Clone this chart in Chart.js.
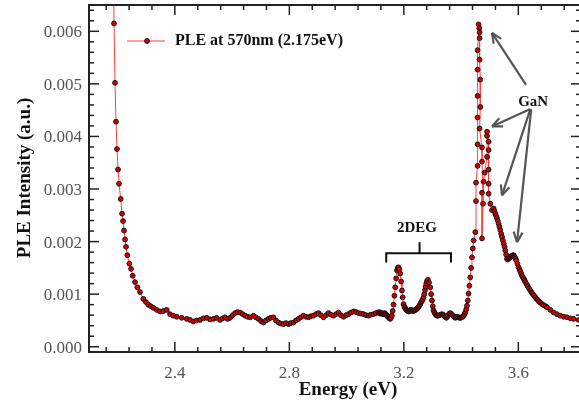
<!DOCTYPE html>
<html>
<head>
<meta charset="utf-8">
<script src="https://cdn.jsdelivr.net/npm/chart.js@4/dist/chart.umd.min.js"></script>
<style>
  html, body { margin: 0; padding: 0; background: #fff; }
  #ple { display: block; }
</style>
</head>
<body>
<canvas id="ple" width="579" height="403"></canvas>
<script>
const ctx = document.getElementById("ple").getContext("2d");

// PLE spectrum, detection at 570 nm
const seriesLabel = "PLE at 570nm (2.175eV)";

// absorption edge tail + flat background
const edgeEnergy = [
  2.184, 2.1874, 2.1909, 2.1944, 2.1979, 2.2014, 2.2049, 2.2108, 2.2154, 2.2189,
  2.2224, 2.2259, 2.2294, 2.2339, 2.2409, 2.2469, 2.2528, 2.2608, 2.2689, 2.2783,
  2.2899, 2.299, 2.3073, 2.316, 2.3248, 2.337, 2.3483, 2.36, 2.3717, 2.3832,
  2.395, 2.4066, 2.424, 2.4416, 2.453, 2.4647, 2.476, 2.4881, 2.5, 2.5115,
  2.523, 2.5346, 2.546, 2.558, 2.567, 2.5755, 2.584, 2.593, 2.602, 2.6105,
  2.619, 2.628, 2.637, 2.6455, 2.654, 2.6629, 2.6745, 2.683, 2.692, 2.701,
  2.7094, 2.718, 2.7269, 2.735, 2.7444, 2.753, 2.7619, 2.77, 2.7794, 2.788,
  2.7969, 2.805, 2.8143, 2.823, 2.8318, 2.84, 2.8493, 2.858, 2.8668, 2.875,
  2.8843, 2.893, 2.9017, 2.91, 2.9192, 2.928, 2.9367, 2.945, 2.9542, 2.963,
  2.9717, 2.98, 2.9892, 2.998, 3.0066, 3.015, 3.0241, 3.033, 3.0416, 3.05,
  3.0591, 3.068, 3.0766, 3.085, 3.0941, 3.103
];
const edgeIntensity = [
  0.0080, 0.00615, 0.00502, 0.00428, 0.00376, 0.00337, 0.00310, 0.00281, 0.00253, 0.00239,
  0.00221, 0.00204, 0.00190, 0.00174, 0.00158, 0.00148, 0.00135, 0.00123, 0.00113, 0.00104,
  0.00091, 0.00085, 0.00080, 0.00077, 0.00074, 0.00070, 0.00067, 0.00068, 0.00070, 0.00062,
  0.00059, 0.00057, 0.00055, 0.00053, 0.00051, 0.00048, 0.00050, 0.00051, 0.00054, 0.00055,
  0.00052, 0.00053, 0.00055, 0.00051, 0.00054, 0.00056, 0.00053, 0.00055, 0.00060, 0.00064,
  0.00066, 0.00065, 0.00062, 0.00059, 0.00057, 0.00056, 0.00059, 0.00056, 0.00053, 0.00049,
  0.00046, 0.00050, 0.00053, 0.00055, 0.00056, 0.00050, 0.00046, 0.00044, 0.00043, 0.00045,
  0.00043, 0.00045, 0.00046, 0.00050, 0.00053, 0.00056, 0.00059, 0.00057, 0.00056, 0.00058,
  0.00059, 0.00062, 0.00064, 0.00060, 0.00056, 0.00060, 0.00064, 0.00061, 0.00059, 0.00062,
  0.00065, 0.00060, 0.00057, 0.00060, 0.00062, 0.00065, 0.00067, 0.00066, 0.00064, 0.00063,
  0.00062, 0.00060, 0.00059, 0.00061, 0.00062, 0.00064
];

// 2DEG peaks and GaN rising edge
const degEnergy = [
  3.1115, 3.1145, 3.117, 3.120, 3.123, 3.126, 3.129, 3.132, 3.135, 3.138,
  3.1409, 3.144, 3.147, 3.150, 3.1524, 3.155, 3.1584, 3.161, 3.164, 3.167,
  3.1699, 3.173, 3.1759, 3.1787, 3.1815, 3.1845, 3.1874, 3.1905, 3.1934, 3.196,
  3.199, 3.202, 3.205, 3.208, 3.2108, 3.214, 3.217, 3.220, 3.223, 3.226,
  3.2283, 3.231, 3.234, 3.237, 3.240, 3.243, 3.2458, 3.248, 3.2515, 3.254,
  3.2573, 3.260, 3.263, 3.266, 3.2689, 3.2715, 3.274, 3.276, 3.2783, 3.281,
  3.2843, 3.288, 3.2923, 3.2953, 3.2983, 3.301, 3.3038, 3.307, 3.310, 3.313,
  3.3157, 3.320, 3.324, 3.329, 3.3332, 3.337, 3.340, 3.344, 3.3483, 3.352,
  3.355, 3.359, 3.3622, 3.366, 3.370, 3.375, 3.3797, 3.383, 3.387, 3.391,
  3.3948, 3.398, 3.402, 3.405, 3.4087, 3.412, 3.415, 3.418, 3.4206, 3.4235,
  3.4262, 3.429, 3.4322, 3.435, 3.4381, 3.441, 3.4437, 3.4497
];
const degIntensity = [
  0.00065, 0.00066, 0.00063, 0.00064, 0.00064, 0.00062, 0.00062, 0.00064, 0.00063, 0.00061,
  0.00059, 0.00057, 0.00056, 0.00054, 0.00053, 0.00055, 0.00059, 0.00068, 0.00080, 0.00097,
  0.00113, 0.00130, 0.00145, 0.00150, 0.00151, 0.00147, 0.00139, 0.00124, 0.00107, 0.00094,
  0.00081, 0.00076, 0.00073, 0.00071, 0.00069, 0.00068, 0.00067, 0.00068, 0.00070, 0.00070,
  0.00069, 0.00068, 0.00068, 0.00069, 0.00070, 0.00071, 0.00072, 0.00074, 0.00076, 0.00078,
  0.00081, 0.00084, 0.00087, 0.00090, 0.00094, 0.00100, 0.00108, 0.00114, 0.00120, 0.00125,
  0.00127, 0.00122, 0.00113, 0.00100, 0.00088, 0.00077, 0.00069, 0.00065, 0.00062, 0.00060,
  0.00059, 0.00059, 0.00060, 0.00061, 0.00062, 0.00061, 0.00059, 0.00057, 0.00055, 0.00057,
  0.00060, 0.00063, 0.00064, 0.00062, 0.00060, 0.00057, 0.00055, 0.00056, 0.00057, 0.00056,
  0.00055, 0.00055, 0.00056, 0.00057, 0.00059, 0.00062, 0.00066, 0.00071, 0.00078, 0.00088,
  0.00101, 0.00116, 0.00132, 0.00150, 0.00170, 0.00187, 0.00202, 0.00218
];

// GaN excitonic peaks (scan order, goes back and forth)
const ganEnergy = [
  3.4521, 3.4521, 3.4577, 3.4577, 3.4577, 3.4577, 3.4577, 3.4577, 3.4612, 3.4636,
  3.4647, 3.4647, 3.4647, 3.4671, 3.4671, 3.4647, 3.4731, 3.4731, 3.4766, 3.4731,
  3.4731, 3.4787, 3.4822, 3.4906, 3.4906, 3.4906, 3.4962, 3.4962, 3.4962, 3.4962,
  3.4962
];
const ganIntensity = [
  0.00277, 0.00312, 0.00344, 0.00385, 0.00436, 0.00477, 0.00527, 0.00564, 0.00613, 0.00606,
  0.00598, 0.00587, 0.00546, 0.00508, 0.00456, 0.00415, 0.00379, 0.00352, 0.00272, 0.00293,
  0.00206, 0.00314, 0.00331, 0.00361, 0.00401, 0.00409, 0.00390, 0.00374, 0.00337, 0.00310,
  0.00291
];

// high energy tail
const tailEnergy = [
  3.5021, 3.508, 3.5136, 3.5165, 3.5196, 3.5223, 3.525, 3.528, 3.5311, 3.534,
  3.537, 3.540, 3.543, 3.546, 3.549, 3.552, 3.5545, 3.5575, 3.5605, 3.563,
  3.566, 3.569, 3.572, 3.575, 3.578, 3.581, 3.5836, 3.5858, 3.588, 3.5905,
  3.593, 3.597, 3.601, 3.604, 3.607, 3.610, 3.6129, 3.616, 3.619, 3.622,
  3.6245, 3.629, 3.633, 3.6375, 3.642, 3.6465, 3.651, 3.655, 3.6594, 3.664,
  3.668, 3.672, 3.6769, 3.683, 3.689, 3.695, 3.7003, 3.712, 3.7234, 3.735,
  3.7469, 3.759, 3.7703, 3.782, 3.7934, 3.8108, 3.825
];
const tailIntensity = [
  0.00272, 0.00260, 0.00263, 0.00258, 0.00253, 0.00249, 0.00245, 0.00240, 0.00234, 0.00228,
  0.00222, 0.00215, 0.00209, 0.00202, 0.00196, 0.00190, 0.00183, 0.00175, 0.00167, 0.00166,
  0.00168, 0.00169, 0.00170, 0.00172, 0.00173, 0.00174, 0.00174, 0.00172, 0.00170, 0.00167,
  0.00164, 0.00158, 0.00151, 0.00147, 0.00143, 0.00139, 0.00135, 0.00132, 0.00129, 0.00126,
  0.00123, 0.00119, 0.00115, 0.00111, 0.00107, 0.00103, 0.00100, 0.00097, 0.00094, 0.00091,
  0.00089, 0.00086, 0.00084, 0.00081, 0.00079, 0.00077, 0.00075, 0.00070, 0.00065, 0.00062,
  0.00059, 0.00057, 0.00056, 0.00054, 0.00053, 0.00051, 0.00050
];

// axes
const xTickLabels = [2.4, 2.8, 3.2, 3.6];
const yTickLabels = [0, 0.001, 0.002, 0.003, 0.004, 0.005, 0.006];
const xMinorStep = 0.08;
const yMinorStep = 0.0002;
const xTitle = "Energy (eV)";
const yTitle = "PLE Intensity (a.u.)";

// annotations [x1, y1, x2, y2] in data units
const ganLabel = "GaN";
const ganLabelPos = [3.652, 0.00458];
const ganArrows = [
  [3.627, 0.00498, 3.508, 0.00597],
  [3.642, 0.00452, 3.508, 0.00419],
  [3.642, 0.00452, 3.543, 0.00288],
  [3.645, 0.00452, 3.5955, 0.00199]
];
const degLabel = "2DEG";
const degLabelPos = [3.246, 0.00218];
const degBracket = [3.1385, 3.3647, 3.2549, 0.00178, 0.00160, 0.00199]; // left, right, mid, bar, legs, stem

const energies = [...edgeEnergy, ...degEnergy, ...ganEnergy, ...tailEnergy];
const intensities = [...edgeIntensity, ...degIntensity, ...ganIntensity, ...tailIntensity];

const serif = "'Liberation Serif', 'Times New Roman', serif";
const lineRed = "#ff4040";
const markRed = "#d40000";

function line(c, x1, y1, x2, y2) {
  c.beginPath();
  c.moveTo(x1, y1);
  c.lineTo(x2, y2);
  c.stroke();
}

function minorValues(min, max, step, majors) {
  const out = [];
  const start = Math.ceil(min / step - 1e-6);
  for (let k = start; k * step <= max + 1e-9; k++) {
    const v = +(k * step).toFixed(6);
    if (!majors.some((m) => Math.abs(m - v) < step / 10)) out.push(v);
  }
  return out;
}

const framePlugin = {
  id: "frame",
  afterDraw(chart) {
    const c = chart.ctx;
    const a = chart.chartArea;
    const x = chart.scales.x;
    const y = chart.scales.y;
    // right frame edge sits just past the canvas edge, like the cropped original
    const right = a.right + 2;
    c.save();

    // box
    c.strokeStyle = "#222";
    c.lineWidth = 2;
    c.strokeRect(a.left, a.top, right - a.left, a.bottom - a.top);

    // inward ticks on all four sides
    c.lineWidth = 1.5;
    const xm = minorValues(x.min, x.max, xMinorStep, xTickLabels);
    const ym = minorValues(y.min, y.max, yMinorStep, yTickLabels);
    xTickLabels.forEach((v) => {
      const p = x.getPixelForValue(v);
      line(c, p, a.bottom, p, a.bottom - 10);
      line(c, p, a.top, p, a.top + 10);
    });
    xm.forEach((v) => {
      const p = x.getPixelForValue(v);
      line(c, p, a.bottom, p, a.bottom - 5);
      line(c, p, a.top, p, a.top + 5);
    });
    yTickLabels.forEach((v) => {
      const p = y.getPixelForValue(v);
      line(c, a.left, p, a.left + 10, p);
      line(c, right, p, right - 10, p);
    });
    ym.forEach((v) => {
      const p = y.getPixelForValue(v);
      line(c, a.left, p, a.left + 5, p);
      line(c, right, p, right - 5, p);
    });

    // tick labels
    c.fillStyle = "#555";
    c.font = "17px " + serif;
    c.textBaseline = "alphabetic";
    c.textAlign = "center";
    xTickLabels.forEach((v) => {
      c.fillText(v.toFixed(1), x.getPixelForValue(v), a.bottom + 26);
    });
    c.textAlign = "right";
    yTickLabels.forEach((v) => {
      c.fillText(v.toFixed(3), a.left - 7, y.getPixelForValue(v) + 6);
    });

    // axis titles
    c.fillStyle = "#111";
    c.font = "bold 19px " + serif;
    c.textAlign = "center";
    c.fillText(xTitle, 348, 395);
    c.save();
    c.translate(30, 178);
    c.rotate(-Math.PI / 2);
    c.fillText(yTitle, 0, 0);
    c.restore();

    // legend
    const ly = a.top + 36;
    c.strokeStyle = lineRed;
    c.lineWidth = 1.2;
    line(c, a.left + 38, ly, a.left + 76, ly);
    c.beginPath();
    c.arc(a.left + 58, ly, 2.4, 0, Math.PI * 2);
    c.fillStyle = markRed;
    c.fill();
    c.strokeStyle = "#111";
    c.lineWidth = 1;
    c.stroke();
    c.fillStyle = "#111";
    c.font = "bold 16px " + serif;
    c.textAlign = "left";
    c.textBaseline = "middle";
    c.fillText(seriesLabel, a.left + 86, ly);

    // GaN arrows
    c.strokeStyle = "#555";
    c.lineWidth = 2.2;
    ganArrows.forEach(([x1, y1, x2, y2]) => {
      const p1 = [x.getPixelForValue(x1), y.getPixelForValue(y1)];
      const p2 = [x.getPixelForValue(x2), y.getPixelForValue(y2)];
      line(c, p1[0], p1[1], p2[0], p2[1]);
      const ang = Math.atan2(p1[1] - p2[1], p1[0] - p2[0]);
      [-0.42, 0.42].forEach((d) => {
        line(c, p2[0], p2[1], p2[0] + 11 * Math.cos(ang + d), p2[1] + 11 * Math.sin(ang + d));
      });
    });
    c.fillStyle = "#111";
    c.font = "bold 15px " + serif;
    c.textAlign = "center";
    c.textBaseline = "alphabetic";
    c.fillText(ganLabel, x.getPixelForValue(ganLabelPos[0]), y.getPixelForValue(ganLabelPos[1]));

    // 2DEG bracket
    const [bl, br, bm, bBar, bLeg, bStem] = degBracket;
    const xl = x.getPixelForValue(bl), xr = x.getPixelForValue(br), xc = x.getPixelForValue(bm);
    const yb = y.getPixelForValue(bBar), yl = y.getPixelForValue(bLeg), ys = y.getPixelForValue(bStem);
    c.strokeStyle = "#111";
    c.lineWidth = 2;
    c.beginPath();
    c.moveTo(xl, yl);
    c.lineTo(xl, yb);
    c.lineTo(xr, yb);
    c.lineTo(xr, yl);
    c.stroke();
    line(c, xc, yb, xc, ys);
    c.fillText(degLabel, x.getPixelForValue(degLabelPos[0]), y.getPixelForValue(degLabelPos[1]));

    c.restore();
  }
};

const lastIndex = energies.length - 1;

new Chart(ctx, {
  type: "line",
  data: {
    datasets: [{
      label: seriesLabel,
      data: energies.map((e, i) => ({ x: e, y: intensities[i] })),
      borderColor: lineRed,
      borderWidth: 1,
      // first and last readings sit outside the frame, so no marker (keeps layout from reserving room)
      pointRadius: (c) => (c.dataIndex === 0 || c.dataIndex === lastIndex ? 0 : 2.4),
      pointBackgroundColor: markRed,
      pointBorderColor: "#111",
      pointBorderWidth: 1,
      tension: 0,
      fill: false
    }]
  },
  options: {
    responsive: false,
    animation: false,
    devicePixelRatio: 1,
    layout: { padding: { left: 0, right: 0, top: 5, bottom: 0 } },
    plugins: { legend: { display: false }, tooltip: { enabled: false } },
    scales: {
      x: {
        type: "linear",
        min: 2.1,
        max: 3.812,
        grid: { display: false, drawTicks: false },
        border: { display: false },
        afterBuildTicks: (s) => { s.ticks = xTickLabels.map((v) => ({ value: v })); },
        afterFit: (s) => { s.height = 51; s.paddingLeft = 0; s.paddingRight = 0; },
        ticks: { display: false }
      },
      y: {
        type: "linear",
        min: -0.0001,
        max: 0.0065,
        grid: { display: false, drawTicks: false },
        border: { display: false },
        afterBuildTicks: (s) => { s.ticks = yTickLabels.map((v) => ({ value: v })); },
        afterFit: (s) => { s.width = 89; s.paddingTop = 0; s.paddingBottom = 0; },
        ticks: { display: false }
      }
    }
  },
  plugins: [framePlugin]
});
</script>
</body>
</html>
